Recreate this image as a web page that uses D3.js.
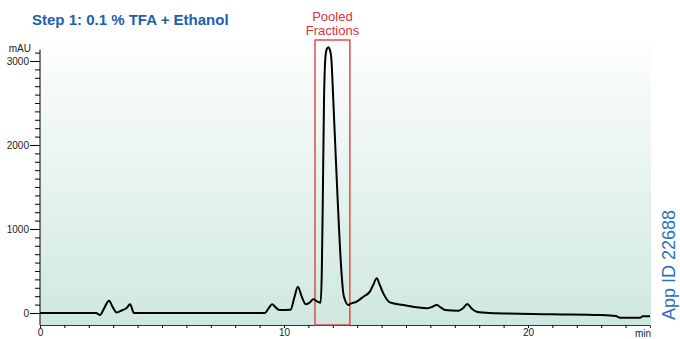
<!DOCTYPE html>
<html>
<head>
<meta charset="utf-8">
<script src="https://cdn.jsdelivr.net/npm/d3@7"></script>
<style>
  body { margin: 0; background: #fff; }
  svg { display: block; font-family: "Liberation Sans", Arial, sans-serif; }
</style>
</head>
<body>
<svg width="680" height="339"></svg>
<script>
var svg = d3.select("svg"),
    width = +svg.attr("width"),
    height = +svg.attr("height");

// chromatogram (time in min, absorbance in mAU)
var times = [0, 2.3, 2.46, 2.6, 2.83, 2.98, 3.14, 3.35, 3.55, 3.69, 3.85,
    9.22, 9.38, 9.51, 9.65, 9.8, 10.27, 10.42, 10.57, 10.72, 10.9, 11.05, 11.2, 11.37, 11.5,
    11.55, 11.59, 11.64, 11.69, 11.75, 11.82, 11.88, 11.94, 12.02, 12.1, 12.2, 12.34, 12.43, 12.5, 12.64,
    12.7, 12.98, 13.25, 13.52, 13.65, 13.8, 13.93, 14.07, 14.34, 14.89, 15.44, 15.85, 16.05, 16.26, 16.45,
    16.6, 17.14, 17.35, 17.51, 17.7, 17.9, 18.44, 20.9, 23.0, 23.6, 23.77, 24.6, 24.7, 25];
var mAU = [0, 0, -24, 40, 146, 70, 5, 30, 60, 103, 0,
    0, 60, 103, 70, 35, 40, 180, 313, 200, 103, 125, 163, 135, 123,
    500, 1345, 2536, 3012, 3140, 3165, 3135, 3030, 2536, 2000, 1345, 551, 234, 155, 95,
    107, 135, 194, 254, 330, 413, 330, 234, 127, 95, 68, 56, 70, 95, 60,
    36, 27, 60, 107, 50, 15, 0, -15, -25, -36, -56, -56, -40, -40];

var pooledRange = [11.27, 12.7];
var yMajor = [0, 1000, 2000, 3000];
var xMajor = [0, 10, 20];

var data = times.map(function (t, i) { return { t: t, v: mAU[i] }; });

var plotLeft = 40, plotRight = 651, plotTop = 40, plotBottom = 325;

var x = d3.scaleLinear().domain([0, 25]).range([plotLeft, plotRight - 1]);
var y = d3.scaleLinear().domain([-143, 3250]).range([plotBottom, plotTop]);

// background gradient
var defs = svg.append("defs");
var grad = defs.append("linearGradient")
    .attr("id", "bg")
    .attr("x1", 0).attr("y1", 0).attr("x2", 0).attr("y2", 1);
grad.append("stop").attr("offset", "0%").attr("stop-color", "#fdfefe");
grad.append("stop").attr("offset", "100%").attr("stop-color", "#cfe8df");

svg.append("rect")
    .attr("x", plotLeft).attr("y", plotTop)
    .attr("width", plotRight - plotLeft).attr("height", plotBottom - plotTop)
    .attr("fill", "url(#bg)");

// y axis
var yMinor = d3.range(0, 3101, 100);
svg.append("g")
    .attr("transform", "translate(" + plotLeft + ",0)")
    .call(d3.axisLeft(y).tickValues(yMinor).tickSize(5).tickFormat(""))
    .call(function (g) { g.select(".domain").remove(); });
svg.append("g")
    .attr("transform", "translate(" + plotLeft + ",0)")
    .attr("font-size", 10)
    .call(d3.axisLeft(y).tickValues(yMajor).tickSize(10).tickPadding(1).tickFormat(d3.format("d")))
    .call(function (g) {
        g.select(".domain").remove();
        g.selectAll("text").attr("fill", "#222").attr("font-family", "Liberation Sans, Arial, sans-serif");
    });
svg.append("line")
    .attr("x1", plotLeft).attr("x2", plotLeft)
    .attr("y1", y(3100) - 3).attr("y2", plotBottom)
    .attr("stroke", "#000");
svg.append("text")
    .attr("x", 31).attr("y", y(3100) - 1)
    .attr("text-anchor", "end")
    .attr("font-size", 10)
    .attr("fill", "#222")
    .text("mAU");

// x axis
svg.append("g")
    .attr("transform", "translate(0," + plotBottom + ")")
    .call(d3.axisBottom(x).tickValues(d3.range(0, 25, 1)).tickSize(3).tickFormat(""))
    .call(function (g) { g.select(".domain").attr("stroke", "#333"); });
svg.append("g")
    .attr("transform", "translate(0," + plotBottom + ")")
    .attr("font-size", 10)
    .call(d3.axisBottom(x).tickValues(xMajor).tickSize(3).tickPadding(1).tickFormat(d3.format("d")))
    .call(function (g) {
        g.select(".domain").remove();
        g.selectAll("text").attr("fill", "#222").attr("font-family", "Liberation Sans, Arial, sans-serif");
    });
svg.append("text")
    .attr("x", plotRight).attr("y", 337)
    .attr("text-anchor", "end")
    .attr("font-size", 10)
    .attr("fill", "#222")
    .text("min");

// pooled fractions box
svg.append("rect")
    .attr("x", x(pooledRange[0])).attr("y", plotTop)
    .attr("width", x(pooledRange[1]) - x(pooledRange[0]))
    .attr("height", plotBottom - plotTop)
    .attr("fill", "none")
    .attr("stroke", "#e0303a")
    .attr("stroke-width", 1.3);

var mid = (x(pooledRange[0]) + x(pooledRange[1])) / 2;
svg.append("text")
    .attr("x", mid).attr("y", 21)
    .attr("text-anchor", "middle").attr("font-size", 13).attr("fill", "#e0303a")
    .text("Pooled");
svg.append("text")
    .attr("x", mid).attr("y", 35)
    .attr("text-anchor", "middle").attr("font-size", 13).attr("fill", "#e0303a")
    .text("Fractions");

// trace
var line = d3.line()
    .x(function (d) { return x(d.t); })
    .y(function (d) { return y(d.v); })
    .curve(d3.curveMonotoneX);

svg.append("path")
    .datum(data)
    .attr("d", line)
    .attr("fill", "none")
    .attr("stroke", "#000")
    .attr("stroke-width", 2)
    .attr("stroke-linejoin", "round");

// title
svg.append("text")
    .attr("x", 32).attr("y", 25)
    .attr("font-size", 15)
    .attr("font-weight", "bold")
    .attr("fill", "#1c5fae")
    .text("Step 1: 0.1 % TFA + Ethanol");

svg.append("text")
    .attr("transform", "translate(675,265) rotate(-90)")
    .attr("text-anchor", "middle")
    .attr("font-size", 18)
    .attr("fill", "#2a70c0")
    .text("App ID 22688");
</script>
</body>
</html>
